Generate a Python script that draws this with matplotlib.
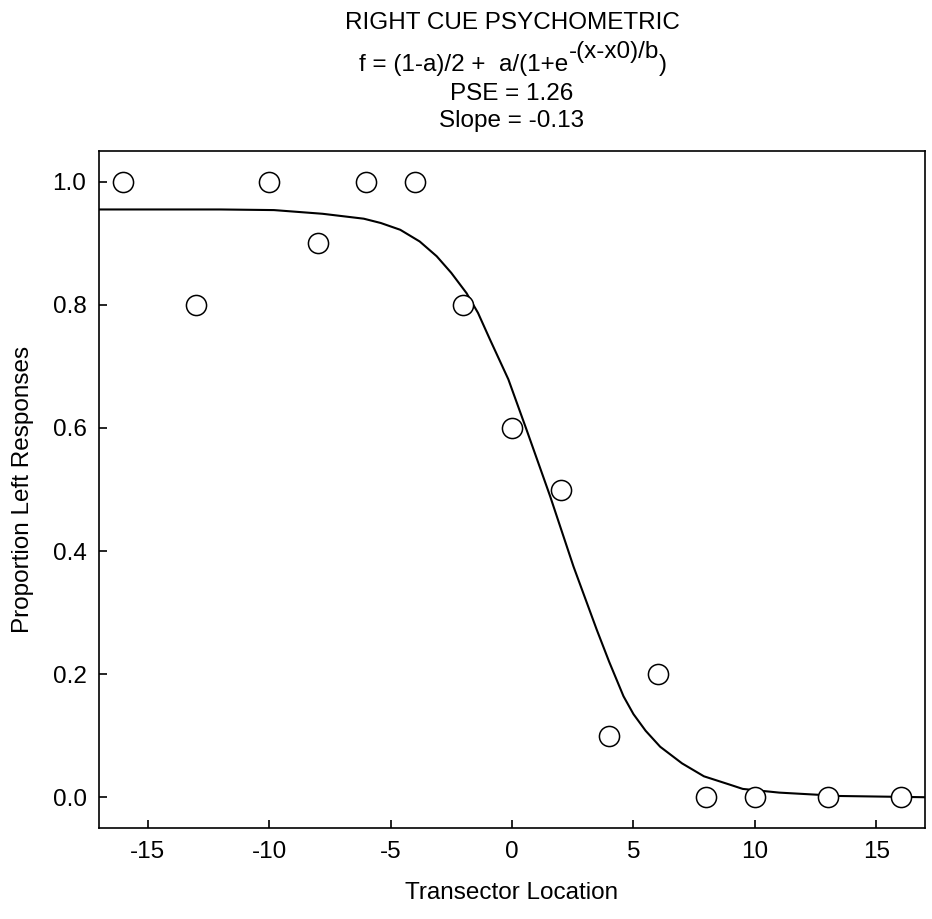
import matplotlib
matplotlib.use("Agg")
import matplotlib.pyplot as plt

plt.rcParams["font.family"] = ["Liberation Sans", "DejaVu Sans"]
plt.rcParams["axes.unicode_minus"] = False

# observed proportions
locations = [-16, -13, -10, -8, -6, -4, -2, 0, 2, 4, 6, 8, 10, 13, 16]
prop_left = [1.0, 0.8, 1.0, 0.9, 1.0, 1.0, 0.8, 0.6, 0.5, 0.1, 0.2, 0.0, 0.0, 0.0, 0.0]

# fitted curve
fit_x = [-17, -14, -12, -9.8, -7.8, -6.1, -5.4, -4.6, -3.8, -3.1, -2.5, -1.87, -1.4, -0.91,
         -0.15, 0.6, 1.57, 2.53, 3.49, 4.0, 4.59, 5.0, 5.5, 6.1, 7.0, 7.9, 9.0, 9.5, 11.0,
         13.5, 17]
fit_y = [0.955, 0.955, 0.955, 0.954, 0.948, 0.940, 0.933, 0.922, 0.903, 0.879, 0.852, 0.819,
         0.787, 0.744, 0.679, 0.597, 0.489, 0.375, 0.272, 0.220, 0.164, 0.135, 0.108, 0.082,
         0.055, 0.034, 0.020, 0.0135, 0.0075, 0.002, 0.0]

title_lines = ["RIGHT CUE PSYCHOMETRIC", "PSE = 1.26", "Slope = -0.13"]
eq_parts = ["f = (1-a)/2 +  a/(1+e", "-(x-x0)/b", ")"]

W, H = 932, 919
FS = 17.5
fig = plt.figure(figsize=(W / 100, H / 100), dpi=100)
ax = fig.add_axes([99 / W, 1 - 828 / H, 826 / W, 677 / H])

ax.plot(fit_x, fit_y, color="black", lw=1.5, zorder=2)
ax.plot(locations, prop_left, "o", ms=14.5, mfc="white", mec="black", mew=1.1,
        zorder=3, clip_on=False)

ax.set_xlim(-17, 17)
ax.set_ylim(-0.05, 1.05)
ax.set_xticks([-15, -10, -5, 0, 5, 10, 15])
ax.set_yticks([0.0, 0.2, 0.4, 0.6, 0.8, 1.0])
ax.set_yticklabels(["0.0", "0.2", "0.4", "0.6", "0.8", "1.0"])
ax.tick_params(direction="in", length=6, width=1.2, labelsize=FS, pad=9,
               top=False, right=False)
for s in ax.spines.values():
    s.set_linewidth(1.2)

ax.set_xlabel("Transector Location", fontsize=FS)
ax.xaxis.set_label_coords(0.5, -(893 - 828) / 677)
ax.xaxis.label.set_va("center")
ax.set_ylabel("Proportion Left Responses", fontsize=FS)
ax.yaxis.set_label_coords(-(99 - 23) / 826, 0.5)
ax.yaxis.label.set_va("center")

cx = 512 / W
fig.text(cx, 1 - 29 / H, title_lines[0], ha="center", va="baseline", fontsize=FS)
fig.text(cx, 1 - 100 / H, title_lines[1], ha="center", va="baseline", fontsize=FS)
fig.text(cx, 1 - 127 / H, title_lines[2], ha="center", va="baseline", fontsize=FS)

# equation line with raised exponent
r = fig.canvas.get_renderer()
pieces = []
for txt in eq_parts:
    t = fig.text(0, 0, txt, fontsize=FS, va="baseline", ha="left")
    pieces.append(t)
widths = [p.get_window_extent(r).width for p in pieces]
x0 = 513 - sum(widths) / 2
base = [71, 58, 71]
for p, w, b in zip(pieces, widths, base):
    p.set_position((x0 / W, 1 - b / H))
    x0 += w

fig.savefig("out.png", dpi=100)
